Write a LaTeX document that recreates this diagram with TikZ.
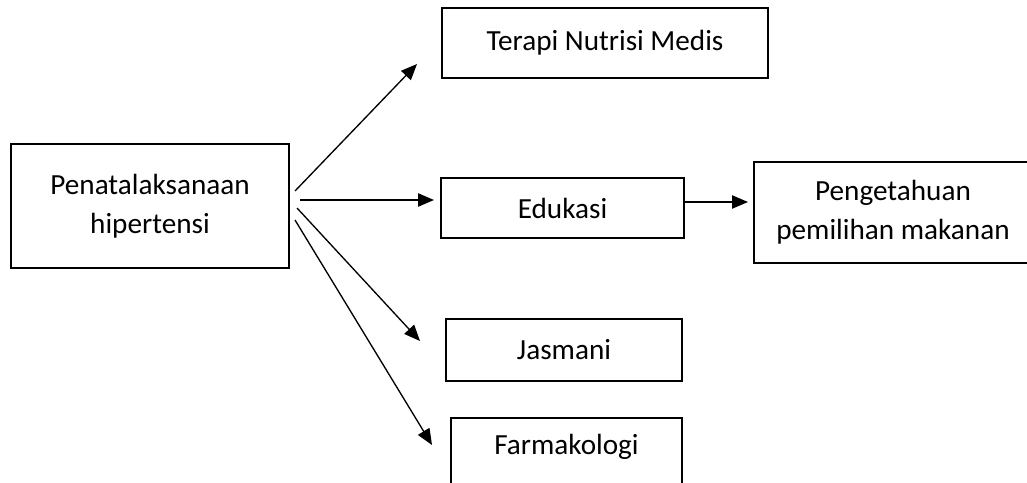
\documentclass[tikz,border=0pt]{standalone}
\usepackage{fontspec}
\setmainfont{Carlito}
\usetikzlibrary{arrows.meta}

\begin{document}
\begin{tikzpicture}[x=0.75pt, y=-0.75pt,
				box/.style={draw, line width=1.5pt, align=center, inner sep=0pt,
				font=\fontsize{21.9}{29.5}\selectfont},
				arr/.style={line width=1pt, -{Triangle[length=12pt, width=10pt]}}]
				\useasboundingbox (0,0) rectangle (1027,482);
				\clip (0,0) rectangle (1027,482);
				\node[box, minimum width=208.5pt, minimum height=93pt] (main) at (150,206)
				{Penatalaksanaan\\hipertensi};
				\node[box, minimum width=244.5pt, minimum height=52.5pt] (terapi) at (605,43)
				{Terapi Nutrisi Medis};
				\node[box, minimum width=182.25pt, minimum height=45pt] (edukasi) at (562.5,208)
				{Edukasi};
				\node[box, minimum width=208.5pt, minimum height=75.75pt] (pengetahuan) at (893,212.5)
				{Pengetahuan\\pemilihan makanan};
				\node[box, minimum width=177pt, minimum height=46.5pt] (jasmani) at (564,350)
				{Jasmani};
				\node[box, anchor=north, minimum width=173.25pt, text height=27pt,
				text depth=40pt] (farmakologi) at (566.5,417) {Farmakologi};
				\draw[arr] ([shift={(5,-15)}]main.east) -- ([shift={(-24,-15)}]terapi.south west);
				\draw[arr] ([shift={(10,-6)}]main.east) -- ([shift={(-6,-8)}]edukasi.west);
				\draw[arr] ([shift={(7,2)}]main.east) -- ([shift={(-25,-9)}]jasmani.west);
				\draw[arr] ([shift={(5,14)}]main.east) -- ([shift={(-18,28)}]farmakologi.north west);
				\draw[arr] ([shift={(-2,-6)}]edukasi.east) -- ([shift={(-5,-10.5)}]pengetahuan.west);
			\end{tikzpicture}
\end{document}
